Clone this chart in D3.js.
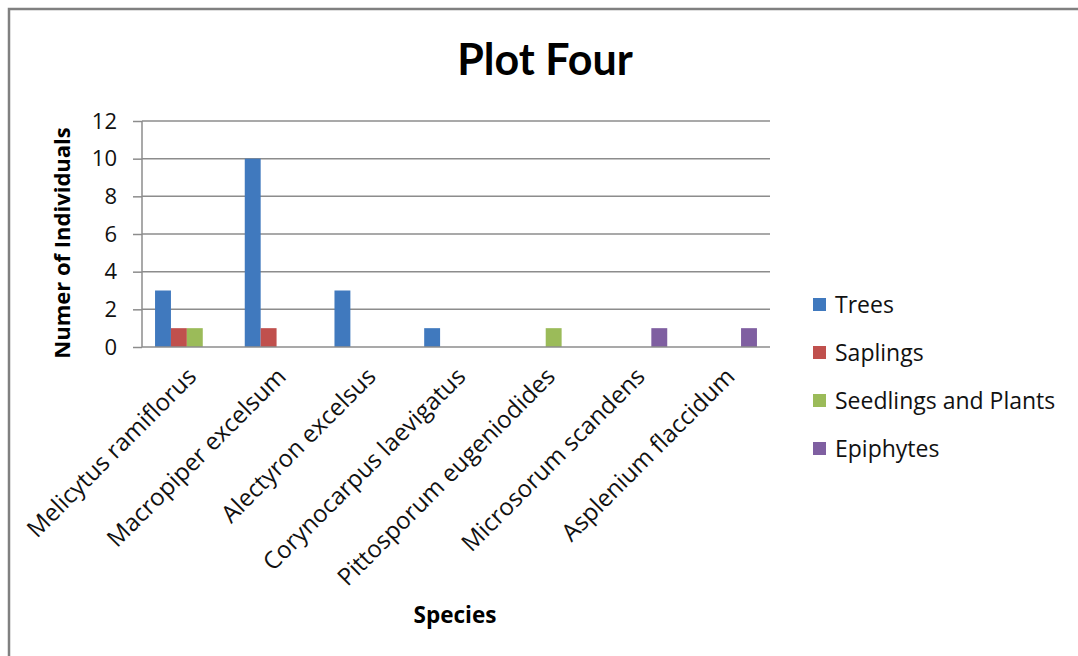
<!DOCTYPE html>
<html>
<head>
<meta charset="utf-8">
<script src="https://cdn.jsdelivr.net/npm/d3@7"></script>
<style>
  html, body { margin: 0; padding: 0; background: #fff; }
  svg { display: block; font-family: "Open Sans", Lato, sans-serif; }
</style>
</head>
<body>
<svg id="chart" width="1078" height="656"></svg>
<script>
// Species counted in the fourth plot
const species = [
  "Melicytus ramiflorus",
  "Macropiper excelsum",
  "Alectyron excelsus",
  "Corynocarpus laevigatus",
  "Pittosporum eugeniodides",
  "Microsorum scandens",
  "Asplenium flaccidum"
];
const seriesNames = ["Trees", "Saplings", "Seedlings and Plants", "Epiphytes"];
const trees     = [3, 10, 3, 1, 0, 0, 0];
const saplings  = [1, 1, 0, 0, 0, 0, 0];
const seedlings = [1, 0, 0, 0, 1, 0, 0];
const epiphytes = [0, 0, 0, 0, 0, 1, 1];
const yTicks = [0, 2, 4, 6, 8, 10, 12];
const colors = ["#4079BE", "#C0504D", "#9BBB59", "#7F5FA1"];

const seriesValues = [trees, saplings, seedlings, epiphytes];

const svg = d3.select("#chart");

// outer chart frame
svg.append("rect")
  .attr("x", 9).attr("y", 9)
  .attr("width", 1200).attr("height", 800)
  .attr("fill", "none").attr("stroke", "#808080").attr("stroke-width", 2.5);

const plot = { left: 142, right: 770, top: 121, bottom: 347 };

const x = d3.scaleBand().domain(species).range([plot.left, plot.right]).paddingInner(0).paddingOuter(0);
const inner = d3.scaleBand().domain(seriesNames)
  .range([0, x.bandwidth()]).paddingOuter(0.82).paddingInner(0);
const y = d3.scaleLinear().domain([0, 12]).range([plot.bottom, plot.top]);

// gridlines
svg.append("g")
  .selectAll("line")
  .data(yTicks.filter(d => d > 0))
  .join("line")
  .attr("x1", plot.left).attr("x2", plot.right)
  .attr("y1", d => y(d)).attr("y2", d => y(d))
  .attr("stroke", "#8c8c8c").attr("stroke-width", 1.5);

// y axis
const yAxis = svg.append("g")
  .attr("transform", `translate(${plot.left},0)`)
  .call(d3.axisLeft(y).tickValues(yTicks).tickSize(9).tickPadding(16));
yAxis.selectAll("line").attr("stroke", "#8c8c8c").attr("stroke-width", 1.5);
yAxis.select(".domain").attr("stroke", "#8c8c8c").attr("stroke-width", 1.5).attr("d", `M0,${plot.top}V${plot.bottom}`);
yAxis.selectAll("text")
  .attr("font-family", "'Open Sans', sans-serif")
  .attr("font-size", 22).attr("fill", "#111");

// bars
seriesNames.forEach((name, si) => {
  svg.append("g")
    .selectAll("rect")
    .data(species.map((s, i) => ({ s, v: seriesValues[si][i] })).filter(d => d.v > 0))
    .join("rect")
    .attr("x", d => x(d.s) + inner(name))
    .attr("width", inner.bandwidth())
    .attr("y", d => y(d.v))
    .attr("height", d => y(0) - y(d.v))
    .attr("fill", colors[si]);
});

// x axis baseline
svg.append("line")
  .attr("x1", plot.left).attr("x2", plot.right)
  .attr("y1", plot.bottom).attr("y2", plot.bottom)
  .attr("stroke", "#8c8c8c").attr("stroke-width", 1.5);

// rotated category labels
svg.append("g")
  .selectAll("text")
  .data(species)
  .join("text")
  .attr("transform", d => `translate(${x(d) + x.bandwidth() / 2 + 11},${plot.bottom + 31}) rotate(-45)`)
  .attr("text-anchor", "end")
  .attr("font-size", 24)
  .attr("fill", "#111")
  .text(d => d);

// title
svg.append("text")
  .attr("x", 545).attr("y", 75)
  .attr("text-anchor", "middle")
  .attr("font-family", "Lato, sans-serif")
  .attr("font-size", 43).attr("font-weight", "bold")
  .attr("fill", "#000")
  .text("Plot Four");

// axis titles
svg.append("text")
  .attr("transform", "translate(70,243) rotate(-90)")
  .attr("text-anchor", "middle")
  .attr("font-size", 22).attr("font-weight", "bold")
  .attr("fill", "#000")
  .text("Numer of Individuals");

svg.append("text")
  .attr("x", 455).attr("y", 623)
  .attr("text-anchor", "middle")
  .attr("font-size", 22.5).attr("font-weight", "bold")
  .attr("fill", "#000")
  .text("Species");

// legend
const legend = svg.append("g")
  .selectAll("g")
  .data(seriesNames)
  .join("g")
  .attr("transform", (d, i) => `translate(813,${298 + i * 48})`);
legend.append("rect")
  .attr("width", 13).attr("height", 13)
  .attr("fill", (d, i) => colors[i]);
legend.append("text")
  .attr("x", 22).attr("y", 15)
  .attr("font-size", 23)
  .attr("fill", "#111")
  .text(d => d);
</script>
</body>
</html>
